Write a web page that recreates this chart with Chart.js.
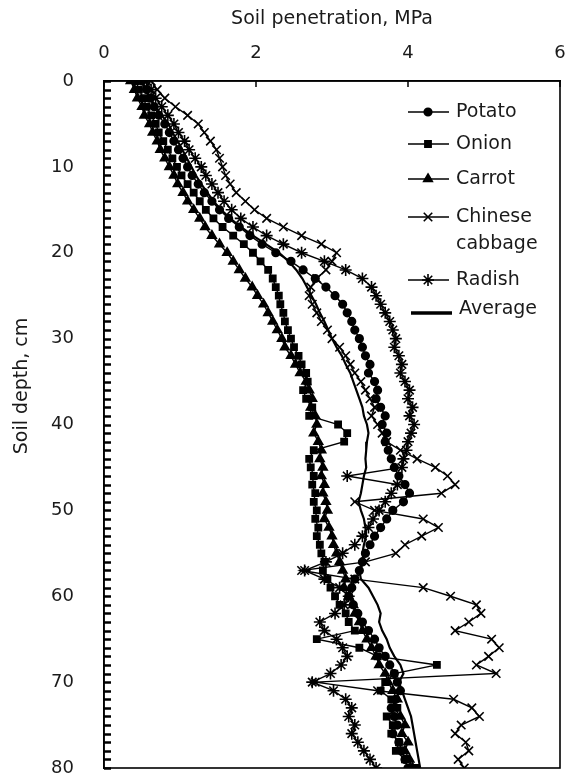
<!DOCTYPE html>
<html>
<head>
<meta charset="utf-8">
<script src="https://cdn.jsdelivr.net/npm/chart.js@4.4.1/dist/chart.umd.min.js"></script>
<style>
    html, body { margin: 0; padding: 0; background: #fff; }
    #wrap { width: 578px; height: 783px; }
</style>
</head>
<body>
<div id="wrap"><canvas id="soil_chart"></canvas></div>
<script>
// depth in cm, one reading per cm
const depth = [
    0, 1, 2, 3, 4, 5, 6, 7, 8, 9, 10, 11, 12, 13, 14, 15, 16, 17, 18, 19,
    20, 21, 22, 23, 24, 25, 26, 27, 28, 29, 30, 31, 32, 33, 34, 35, 36, 37, 38, 39,
    40, 41, 42, 43, 44, 45, 46, 47, 48, 49, 50, 51, 52, 53, 54, 55, 56, 57, 58, 59,
    60, 61, 62, 63, 64, 65, 66, 67, 68, 69, 70, 71, 72, 73, 74, 75, 76, 77, 78, 79, 80
]

// soil penetration, MPa
const potato = [
    0.50, 0.56, 0.60, 0.66, 0.72, 0.80, 0.86, 0.92, 0.98, 1.04, 1.10, 1.16, 1.24, 1.32, 1.42, 1.52, 1.64, 1.78, 1.92, 2.08,
    2.26, 2.46, 2.62, 2.78, 2.92, 3.04, 3.14, 3.20, 3.26, 3.30, 3.36, 3.40, 3.44, 3.50, 3.48, 3.56, 3.60, 3.58, 3.64, 3.70,
    3.66, 3.72, 3.70, 3.74, 3.78, 3.82, 3.88, 3.96, 4.02, 3.94, 3.80, 3.72, 3.64, 3.56, 3.50, 3.44, 3.40, 3.36, 3.30, 3.26,
    3.22, 3.28, 3.34, 3.40, 3.48, 3.56, 3.62, 3.70, 3.76, 3.82, 3.86, 3.90, 3.84, 3.78, 3.82, 3.86, 3.80, 3.88, 3.92, 3.96, 4.00
]
const onion = [
    0.42, 0.46, 0.52, 0.56, 0.62, 0.68, 0.72, 0.78, 0.84, 0.90, 0.96, 1.02, 1.10, 1.18, 1.26, 1.34, 1.44, 1.56, 1.70, 1.84,
    1.96, 2.06, 2.16, 2.22, 2.26, 2.30, 2.32, 2.36, 2.38, 2.42, 2.46, 2.50, 2.56, 2.60, 2.66, 2.68, 2.62, 2.66, 2.74, 2.70,
    3.08, 3.20, 3.16, 2.76, 2.70, 2.72, 2.76, 2.74, 2.78, 2.76, 2.80, 2.78, 2.82, 2.80, 2.84, 2.86, 2.90, 2.88, 2.94, 2.98,
    3.04, 3.10, 3.18, 3.22, 3.30, 2.80, 3.36, 3.60, 4.38, 3.82, 3.70, 3.64, 3.78, 3.86, 3.72, 3.80, 3.78, 3.88, 3.84, 3.96, 4.10
]
const carrot = [
    0.35, 0.40, 0.44, 0.50, 0.53, 0.60, 0.64, 0.70, 0.74, 0.80, 0.86, 0.92, 0.97, 1.04, 1.10, 1.18, 1.26, 1.33, 1.42, 1.52,
    1.62, 1.70, 1.78, 1.86, 1.95, 2.02, 2.10, 2.16, 2.22, 2.28, 2.34, 2.38, 2.46, 2.52, 2.58, 2.66, 2.70, 2.74, 2.72, 2.78,
    2.80, 2.76, 2.82, 2.86, 2.84, 2.88, 2.86, 2.90, 2.88, 2.92, 2.94, 2.90, 2.96, 3.00, 3.02, 3.06, 3.10, 3.14, 3.18, 3.16,
    3.22, 3.28, 3.30, 3.36, 3.40, 3.46, 3.52, 3.58, 3.62, 3.70, 3.74, 3.80, 3.86, 3.82, 3.90, 3.96, 3.92, 4.00, 3.96, 4.02, 4.06
]
const chineseCabbage = [
    0.62, 0.70, 0.80, 0.94, 1.10, 1.24, 1.32, 1.40, 1.48, 1.52, 1.56, 1.60, 1.66, 1.74, 1.86, 1.98, 2.14, 2.36, 2.60, 2.86,
    3.06, 3.00, 2.92, 2.80, 2.72, 2.70, 2.74, 2.80, 2.86, 2.94, 3.00, 3.10, 3.18, 3.24, 3.30, 3.38, 3.44, 3.50, 3.56, 3.52,
    3.60, 3.66, 3.72, 3.90, 4.12, 4.36, 4.52, 4.62, 4.44, 3.30, 3.56, 4.20, 4.40, 4.18, 3.96, 3.84, 3.44, 2.60, 3.30, 4.20,
    4.56, 4.90, 4.96, 4.80, 4.62, 5.10, 5.20, 5.06, 4.90, 5.16, 2.78, 3.60, 4.60, 4.84, 4.94, 4.70, 4.62, 4.76, 4.80, 4.66, 4.74
]
const radish = [
    0.56, 0.62, 0.68, 0.76, 0.84, 0.92, 0.98, 1.06, 1.12, 1.20, 1.28, 1.34, 1.42, 1.50, 1.58, 1.68, 1.80, 1.96, 2.14, 2.36,
    2.60, 2.90, 3.18, 3.40, 3.52, 3.58, 3.64, 3.70, 3.76, 3.80, 3.84, 3.82, 3.88, 3.92, 3.90, 3.96, 4.02, 4.00, 4.06, 4.02,
    4.08, 4.04, 4.00, 3.98, 3.94, 3.92, 3.20, 3.86, 3.78, 3.70, 3.62, 3.54, 3.48, 3.40, 3.30, 3.14, 2.92, 2.64, 2.90, 3.10,
    3.22, 3.16, 3.04, 2.84, 2.90, 3.06, 3.14, 3.20, 3.12, 2.98, 2.74, 3.02, 3.18, 3.26, 3.22, 3.30, 3.26, 3.34, 3.42, 3.50, 3.58
]
const average = [
    0.49, 0.55, 0.61, 0.68, 0.76, 0.85, 0.90, 0.97, 1.03, 1.09, 1.15, 1.21, 1.28, 1.36, 1.44, 1.54, 1.66, 1.80, 1.96, 2.13,
    2.30, 2.43, 2.53, 2.61, 2.67, 2.73, 2.79, 2.84, 2.90, 2.95, 3.00, 3.06, 3.13, 3.18, 3.24, 3.28, 3.32, 3.36, 3.40, 3.42,
    3.46, 3.48, 3.46, 3.45, 3.44, 3.45, 3.42, 3.40, 3.38, 3.35, 3.38, 3.42, 3.44, 3.45, 3.42, 3.40, 3.42, 3.36, 3.38, 3.48,
    3.54, 3.60, 3.64, 3.62, 3.66, 3.72, 3.76, 3.82, 3.90, 3.94, 3.88, 3.92, 3.96, 4.00, 4.04, 4.06, 4.08, 4.10, 4.12, 4.14, 4.16
]

const xTicks = [0, 2, 4, 6]
const yTicks = [0, 10, 20, 30, 40, 50, 60, 70, 80]

const FONT = 'DejaVu Sans'
const INK = '#1a1a1a'

function makeSet(label, values, style, radius) {
    return {
        label: label,
        data: depth.map((d, i) => ({ x: values[i], y: d })),
        showLine: true,
        borderColor: '#000',
        backgroundColor: '#000',
        borderWidth: style ? 1.4 : 2.2,
        pointStyle: style || false,
        pointRadius: style ? radius : 0,
        pointBorderWidth: 1.6,
        pointHoverRadius: radius
    }
}

// legend rows drawn inside the plot, like the original
const legendRows = [
    { y: 112, text: ['Potato'] },
    { y: 144, text: ['Onion'] },
    { y: 179, text: ['Carrot'] },
    { y: 217, text: ['Chinese', 'cabbage'] },
    { y: 280, text: ['Radish'] },
    { y: 309, text: ['Average'] }
]

const decor = {
    id: 'decor',
    afterDraw(chart) {
        const ctx = chart.ctx
        const area = chart.chartArea
        const xs = chart.scales.x
        const ys = chart.scales.y
        ctx.save()

        // frame
        ctx.strokeStyle = '#000'
        ctx.lineWidth = 1.6
        ctx.strokeRect(area.left, area.top, area.right - area.left, area.bottom - area.top)

        // inward minor ticks on depth axis, every cm
        ctx.lineWidth = 2.4
        ctx.beginPath()
        for (let d = 0; d <= 80; d++) {
            const py = Math.round(ys.getPixelForValue(d)) + 0.5
            ctx.moveTo(area.left, py)
            ctx.lineTo(area.left + 7, py)
        }
        ctx.stroke()

        // inward ticks on penetration axis
        ctx.lineWidth = 1.5
        ctx.beginPath()
        xTicks.forEach(v => {
            const px = xs.getPixelForValue(v)
            ctx.moveTo(px, area.top)
            ctx.lineTo(px, area.top + 6)
        })
        ctx.stroke()

        // y title
        ctx.fillStyle = INK
        ctx.font = '19px "' + FONT + '"'
        ctx.textAlign = 'center'
        ctx.textBaseline = 'middle'
        ctx.translate(22, 386)
        ctx.rotate(-Math.PI / 2)
        ctx.fillText('Soil depth, cm', 0, 0)
        ctx.setTransform(1, 0, 0, 1, 0, 0)
        ctx.restore()

        // legend
        ctx.save()
        ctx.font = '19px "' + FONT + '"'
        ctx.textAlign = 'left'
        ctx.textBaseline = 'middle'
        chart.data.datasets.forEach((ds, i) => {
            const row = legendRows[i]
            ctx.strokeStyle = '#000'
            ctx.fillStyle = '#000'
            if (ds.pointStyle) {
                ctx.lineWidth = 1.6
                ctx.beginPath()
                ctx.moveTo(408, row.y)
                ctx.lineTo(449, row.y)
                ctx.stroke()
                ctx.lineWidth = ds.pointBorderWidth
                Chart.helpers.drawPoint(ctx, {
                    pointStyle: ds.pointStyle,
                    radius: ds.pointRadius,
                    rotation: 0,
                    borderWidth: ds.pointBorderWidth
                }, 428, row.y)
            } else {
                ctx.lineWidth = 3.5
                ctx.beginPath()
                ctx.moveTo(411, row.y + 4)
                ctx.lineTo(452, row.y + 4)
                ctx.stroke()
            }
            ctx.fillStyle = INK
            row.text.forEach((t, k) => {
                ctx.fillText(t, 456 + (ds.pointStyle ? 0 : 3), row.y + k * 27)
            })
        })
        ctx.restore()
    }
}

const ctx = document.getElementById('soil_chart').getContext('2d')
const chart = new Chart(ctx, {
    type: 'scatter',
    data: {
        datasets: [
            makeSet('Potato', potato, 'circle', 3.8),
            makeSet('Onion', onion, 'rect', 4.4),
            makeSet('Carrot', carrot, 'triangle', 5),
            makeSet('Chinese cabbage', chineseCabbage, 'crossRot', 6),
            makeSet('Radish', radish, 'star', 6),
            makeSet('Average', average, null, 0)
        ]
    },
    options: {
        responsive: true,
        maintainAspectRatio: false,
        animation: false,
        layout: {
            padding: { top: 0, left: 0, right: 18, bottom: 15 }
        },
        plugins: {
            legend: { display: false },
            tooltip: { enabled: false }
        },
        scales: {
            x: {
                type: 'linear',
                position: 'top',
                min: 0,
                max: 6,
                afterBuildTicks: s => { s.ticks = xTicks.map(v => ({ value: v })) },
                afterFit: s => {
                    s.height = 81
                    s.paddingLeft = 0
                    s.paddingRight = 0
                },
                ticks: {
                    color: INK,
                    padding: 9,
                    font: { family: FONT, size: 18 }
                },
                grid: { display: false },
                border: { display: true, color: '#000', width: 1.6 },
                title: {
                    display: true,
                    text: 'Soil penetration, MPa',
                    color: INK,
                    font: { family: FONT, size: 19 },
                    padding: { top: 8, bottom: 0 }
                }
            },
            y: {
                type: 'linear',
                reverse: true,
                min: 0,
                max: 80,
                afterBuildTicks: s => { s.ticks = yTicks.map(v => ({ value: v })) },
                afterFit: s => {
                    s.width = 104
                    s.paddingTop = 0
                    s.paddingBottom = 0
                },
                ticks: {
                    color: INK,
                    padding: 22,
                    font: { family: FONT, size: 18 }
                },
                grid: { display: false },
                border: { display: true, color: '#000', width: 1.6 }
            }
        }
    },
    plugins: [decor]
})
</script>
</body>
</html>
